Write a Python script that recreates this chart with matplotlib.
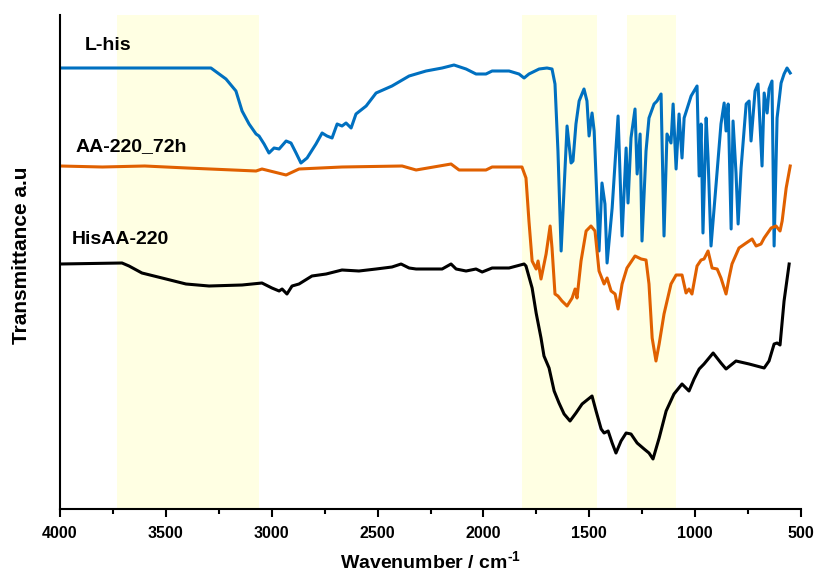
import matplotlib.pyplot as plt
from matplotlib.ticker import MultipleLocator

# ---- data (wavenumber in cm-1, transmittance in a.u.) ----
lhis_wn = [4000, 3800, 3600, 3400, 3287, 3216, 3169, 3140, 3107, 3074, 3060, 3036, 3013, 2989,
           2965, 2932, 2909, 2885, 2862, 2833, 2791, 2762, 2739, 2715, 2691, 2668, 2649, 2625,
           2602, 2554, 2507, 2432, 2351, 2271, 2195, 2139, 2082, 2035, 1988, 1959, 1879, 1832,
           1808, 1785, 1737, 1700, 1676, 1662, 1648, 1633, 1605, 1586, 1577, 1563, 1548, 1525,
           1511, 1501, 1487, 1477, 1454, 1440, 1426, 1416, 1392, 1364, 1345, 1326, 1317, 1303,
           1284, 1274, 1260, 1251, 1232, 1218, 1194, 1180, 1161, 1147, 1133, 1114, 1104, 1090,
           1076, 1062, 1052, 1019, 991, 981, 972, 963, 948, 939, 925, 901, 878, 863, 854, 844,
           830, 821, 807, 797, 783, 759, 745, 736, 717, 703, 684, 674, 660, 651, 637, 627, 613,
           594, 580, 566, 551]
lhis_t = [441, 441, 441, 441, 441, 430, 418, 398, 385, 375, 373, 365, 356, 361,
          360, 368, 366, 356, 346, 351, 365, 376, 373, 371, 385, 383, 386, 381,
          395, 403, 416, 423, 433, 438, 441, 444, 440, 435, 435, 438, 438, 435,
          431, 435, 440, 441, 440, 425, 358, 258, 383, 346, 348, 385, 408, 420,
          408, 373, 396, 378, 258, 326, 305, 246, 301, 393, 273, 361, 306, 371,
          400, 335, 375, 268, 358, 391, 405, 408, 415, 273, 375, 366, 405, 340,
          395, 351, 391, 413, 423, 333, 385, 276, 391, 351, 263, 325, 385, 406, 378, 405,
          280, 388, 336, 285, 341, 405, 408, 368, 418, 425, 343, 416, 396, 420, 428, 263, 391,
          426, 435, 441, 436]

aa_wn = [4000, 3800, 3600, 3400, 3074, 3046, 2932, 2871, 2668, 2384, 2318, 2153, 2115, 1988,
         1959, 1818, 1799, 1785, 1770, 1751, 1742, 1728, 1704, 1685, 1676, 1662, 1648, 1629,
         1605, 1581, 1567, 1558, 1539, 1515, 1492, 1473, 1454, 1430, 1416, 1397, 1378, 1364,
         1345, 1322, 1284, 1255, 1232, 1218, 1203, 1185, 1170, 1147, 1114, 1090, 1062, 1043,
         1029, 1015, 991, 972, 958, 939, 920, 896, 878, 854, 840, 826, 793, 759, 731, 712,
         689, 674, 641, 618, 599, 589, 570, 551]
aa_t = [343, 342, 343, 341, 338, 340, 334, 340, 342, 343, 339, 345, 339, 339,
        342, 342, 331, 288, 248, 240, 248, 230, 255, 283, 261, 215, 213, 208,
        203, 211, 220, 211, 248, 278, 283, 278, 238, 225, 231, 218, 215, 200,
        225, 241, 253, 250, 249, 225, 171, 148, 165, 195, 225, 234, 234, 216,
        220, 215, 243, 249, 250, 258, 241, 240, 231, 215, 231, 245, 261, 266, 270, 263,
        265, 271, 281, 283, 278, 288, 321, 343]

his_wn = [4000, 3707, 3674, 3613, 3499, 3405, 3296, 3140, 3046, 2999, 2965, 2951, 2928, 2904,
          2871, 2810, 2743, 2668, 2588, 2507, 2432, 2389, 2351, 2318, 2271, 2195, 2153, 2129,
          2082, 2035, 2006, 1959, 1879, 1808, 1799, 1770, 1751, 1728, 1714, 1690, 1666, 1643,
          1619, 1591, 1563, 1534, 1487, 1468, 1444, 1430, 1411, 1392, 1374, 1350, 1326, 1303,
          1274, 1241, 1218, 1199, 1170, 1137, 1100, 1062, 1029, 1005, 981, 958, 915, 878, 854,
          807, 745, 674, 651, 627, 613, 599, 580, 556]
his_t = [245, 246, 243, 236, 230, 225, 223, 224, 226, 221, 218, 220, 215, 223,
         225, 233, 235, 239, 238, 240, 242, 245, 241, 240, 240, 240, 245, 240,
         238, 240, 237, 241, 241, 245, 243, 221, 196, 171, 153, 141, 118, 106,
         95, 88, 96, 105, 113, 98, 80, 76, 78, 66, 56, 68, 76, 75,
         66, 60, 56, 50, 71, 98, 115, 125, 118, 130, 140, 145, 156, 146, 140,
         148, 145, 141, 148, 165, 166, 164, 208, 245]

shade_bands = [(3730, 3060), (1820, 1465), (1320, 1090)]

series_names = ["L-his", "AA-220_72h", "HisAA-220"]
label_pos = [(3882, 464), (3929, 362), (3943, 269)]

plt.rcParams["font.family"] = ["Liberation Sans", "DejaVu Sans"]
plt.rcParams["font.weight"] = "bold"
plt.rcParams["mathtext.fontset"] = "custom"
plt.rcParams["mathtext.rm"] = "Liberation Sans:bold"
plt.rcParams["mathtext.bf"] = "Liberation Sans:bold"

fig = plt.figure(figsize=(8.16, 5.75), dpi=100)
ax = fig.add_axes([60 / 816, 66 / 575, 741 / 816, 494 / 575])

for lo, hi in shade_bands:
    ax.axvspan(lo, hi, color="#FFFFE3", lw=0, zorder=0)

ax.plot(lhis_wn, lhis_t, color="#0070C0", lw=2.2)
ax.plot(aa_wn, aa_t, color="#E06000", lw=2.2)
ax.plot(his_wn, his_t, color="black", lw=2.2)

for name, (x, y) in zip(series_names, label_pos):
    ax.text(x, y, name, fontsize=14, fontweight="bold", ha="left", va="center")

ax.set_xlim(4000, 500)
ax.set_ylim(0, 494)
ax.xaxis.set_major_locator(MultipleLocator(500))
ax.xaxis.set_minor_locator(MultipleLocator(250))
ax.tick_params(axis="x", which="major", direction="out", length=5.5, width=1.5,
               labelsize=11.5, pad=7)
ax.tick_params(axis="x", which="minor", direction="out", length=3.5, width=1.5)
ax.set_yticks([])
for lbl in ax.get_xticklabels():
    lbl.set_fontweight("bold")

for side in ["top", "right"]:
    ax.spines[side].set_visible(False)
for side in ["left", "bottom"]:
    ax.spines[side].set_linewidth(1.5)

fig.text(430 / 816, 6 / 575, "Wavenumber / cm$^{\\mathrm{\u2010}1}$", fontsize=14,
         fontweight="bold", ha="center", va="baseline")
fig.text(22 / 816, 1 - 255 / 575, "Transmittance a.u", fontsize=15, fontweight="bold",
         rotation=90, ha="center", va="center")

plt.savefig("out.png", dpi=100)
